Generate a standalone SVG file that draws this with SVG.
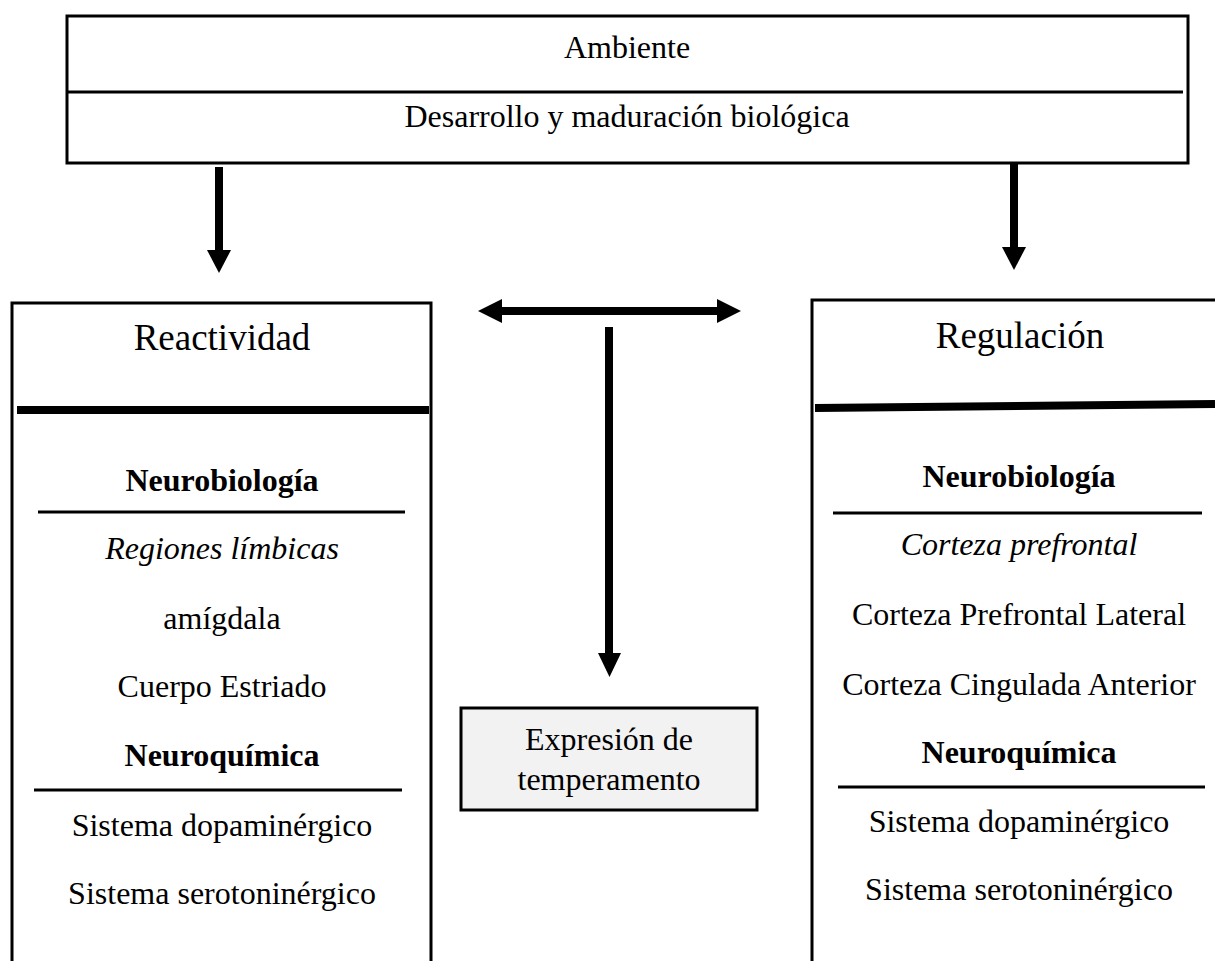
<svg xmlns="http://www.w3.org/2000/svg" width="1215" height="961" viewBox="0 0 1215 961">
<style>
text{font-family:"Liberation Serif","Times New Roman",serif;font-size:32px;fill:#000;text-anchor:middle}
.t{font-size:37px}
.b{font-weight:bold}
.i{font-style:italic}
.box{fill:#fff;stroke:#000;stroke-width:3}
.thin{stroke:#000;stroke-width:3}
.thick{stroke:#000;stroke-width:8}
.shaft{stroke:#000;stroke-width:8;fill:none}
.head{fill:#000}
</style>
<rect width="1215" height="961" fill="#fff"/>
<g id="top">
<rect class="box" x="67" y="16" width="1121" height="147"/>
<line class="thin" x1="67" y1="92" x2="1183" y2="92"/>
<text x="627" y="58">Ambiente</text>
<text x="627" y="127">Desarrollo y maduración biológica</text>
</g>
<g id="reactividad">
<path class="box" d="M12 963 V303 H431 V963"/>
<line class="thick" x1="17" y1="410" x2="429" y2="410"/>
<text class="t" x="222" y="350">Reactividad</text>
<text class="b" x="222" y="491">Neurobiología</text>
<line class="thin" x1="38" y1="512" x2="405" y2="512"/>
<text class="i" x="222" y="559">Regiones límbicas</text>
<text x="222" y="629">amígdala</text>
<text x="222" y="697">Cuerpo Estriado</text>
<text class="b" x="222" y="766">Neuroquímica</text>
<line class="thin" x1="34" y1="790" x2="402" y2="790"/>
<text x="222" y="836">Sistema dopaminérgico</text>
<text x="222" y="904">Sistema serotoninérgico</text>
</g>
<g id="regulacion">
<path class="box" d="M812 963 V300 H1220"/>
<line class="thick" x1="815" y1="408" x2="1215" y2="404"/>
<text class="t" x="1020" y="348">Regulación</text>
<text class="b" x="1019" y="487">Neurobiología</text>
<line class="thin" x1="833" y1="513" x2="1202" y2="513"/>
<text class="i" x="1019" y="555">Corteza prefrontal</text>
<text x="1019" y="625">Corteza Prefrontal Lateral</text>
<text x="1019" y="695">Corteza Cingulada Anterior</text>
<text class="b" x="1019" y="763">Neuroquímica</text>
<line class="thin" x1="838" y1="787" x2="1205" y2="787"/>
<text x="1019" y="832">Sistema dopaminérgico</text>
<text x="1019" y="900">Sistema serotoninérgico</text>
</g>
<g id="expresion">
<rect x="461" y="708" width="296" height="102" fill="#f2f2f2" stroke="#000" stroke-width="3"/>
<text x="609" y="750">Expresión de</text>
<text x="609" y="790">temperamento</text>
</g>
<g id="connectors">
<line class="shaft" x1="219" y1="167" x2="219" y2="252"/>
<polygon class="head" points="207,250 231,250 219,273"/>
<line class="shaft" x1="1014" y1="162" x2="1014" y2="249"/>
<polygon class="head" points="1002,247 1026,247 1014,270"/>
<line class="shaft" x1="500" y1="311" x2="719" y2="311"/>
<polygon class="head" points="478,311 502,299 502,323"/>
<polygon class="head" points="741,311 717,299 717,323"/>
<line class="shaft" x1="609" y1="327" x2="609" y2="655"/>
<polygon class="head" points="598,653 621,653 609.5,677"/>
</g>
</svg>
